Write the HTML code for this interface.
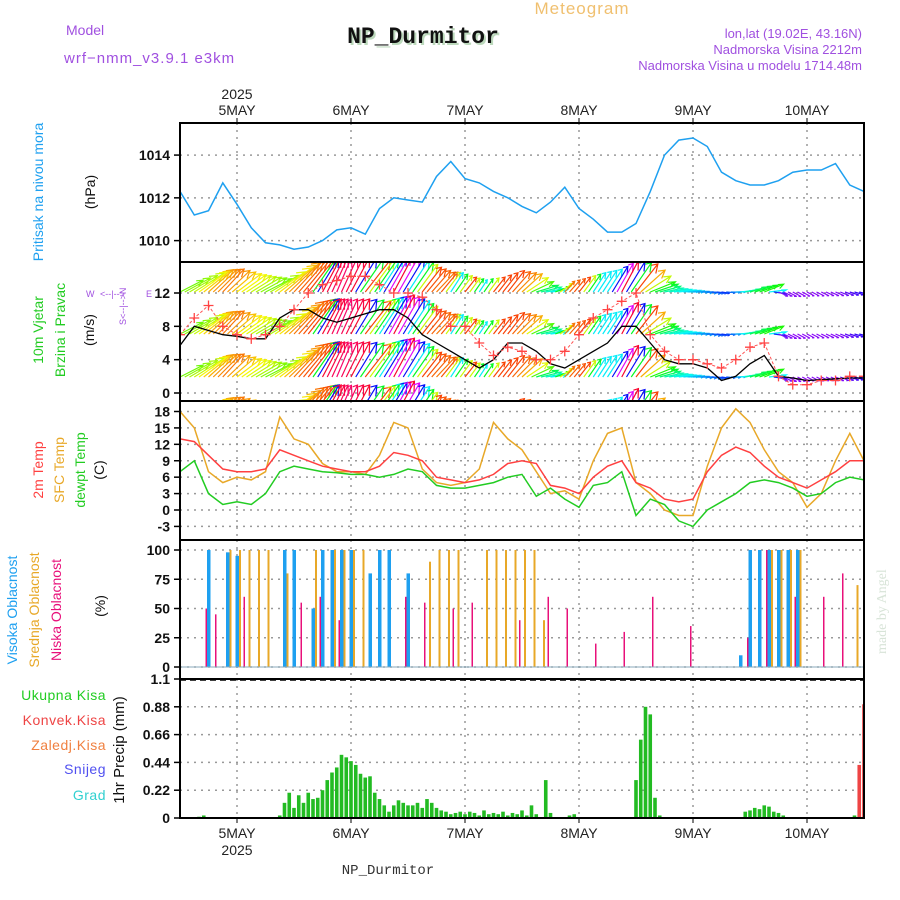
<!DOCTYPE html>
<html><head><meta charset="utf-8"><title>Meteogram NP_Durmitor</title>
<style>
html,body{margin:0;padding:0;background:#fff;}
svg{display:block;font-family:"Liberation Sans",sans-serif;}
</style></head>
<body>
<svg id="chart" width="900" height="900" viewBox="0 0 900 900" xmlns="http://www.w3.org/2000/svg">
<rect width="900" height="900" fill="#fff"/>
<text x="582" y="14" font-size="17" fill="#f0c070" text-anchor="middle" letter-spacing="1">Meteogram</text>
<text x="66" y="35" font-size="14" fill="#a050e0">Model</text>
<text x="64" y="63" font-size="15" fill="#a050e0" letter-spacing="1">wrf−nmm_v3.9.1 e3km</text>
<text x="425" y="45" font-size="23" font-weight="bold" fill="#bcd9bc" text-anchor="middle" font-family="Liberation Mono,monospace">NP_Durmitor</text>
<text x="423" y="43" font-size="23" font-weight="bold" fill="#111" text-anchor="middle" font-family="Liberation Mono,monospace">NP_Durmitor</text>
<text x="862" y="38" font-size="13" fill="#a050e0" text-anchor="end">lon,lat (19.02E, 43.16N)</text>
<text x="862" y="54" font-size="13" fill="#a050e0" text-anchor="end">Nadmorska Visina 2212m</text>
<text x="862" y="70" font-size="13" fill="#a050e0" text-anchor="end">Nadmorska Visina u modelu 1714.48m</text>
<g id="g"></g>
<text transform="translate(886,654) rotate(-90)" font-size="14" fill="#d8e4d8" font-family="Liberation Serif,serif">made by Angel</text>
<text x="388" y="874" font-size="14" fill="#333" text-anchor="middle" font-family="Liberation Mono,monospace">NP_Durmitor</text>
</svg>
<script>
// ---- data (3-hourly, starting 4 May 12 UTC) ----
const dayLabels = ["5MAY","6MAY","7MAY","8MAY","9MAY","10MAY"];
const pressure = [1012.3,1011.2,1011.4,1012.7,1011.7,1010.6,1009.9,1009.8,1009.6,1009.7,1010.0,1010.5,1010.6,1010.3,1011.5,1012.0,1011.9,1011.8,1013.0,1013.7,1012.9,1012.7,1012.3,1012.0,1011.6,1011.3,1011.8,1012.5,1011.5,1011.0,1010.4,1010.4,1010.8,1012.3,1014.0,1014.7,1014.8,1014.4,1013.2,1012.8,1012.6,1012.6,1012.8,1013.2,1013.3,1013.3,1013.6,1012.6,1012.3];
const windSpeed = [5.7,8,7.5,7,6.8,6.5,6.5,9,10,10,9,8.5,9,9.5,10,10,9,7,6,5,4,3,4,6,6,5,3.5,3,4,5,6,8,8,6,4,3.5,3.5,3,1.5,2,3.5,4.5,2,1.8,1.5,1.6,1.7,1.8,1.8];
const windGust = [7,9,10.5,8,7,6.5,7,8,10,12,13,13.5,14,14,13,12,12,11.5,10,8,8,6,4.5,5.5,5,4,4,5,7,9,10,11,12,7,5,4,4,3.5,3,4,5.5,6,2,1,1,1.5,1.5,2,2];
const windDir = [235,230,220,215,225,230,235,225,215,210,200,195,200,210,205,200,205,210,215,205,210,205,210,210,220,245,255,215,210,205,205,200,210,240,250,255,260,265,270,260,245,240,285,290,290,288,285,280,275];
const temp2m = [13,12.5,10,7.5,7,7,7.5,11,10,9,8,7.5,7,7,8,10.5,10,9,6,5.5,5,5.5,6.5,8.5,9,8.5,4.5,4,3,6,8,9,5,4,2,1.5,2,7,10,11.5,10.5,8,6,5,4,5.5,7,9,9];
const tempSfc = [18,15,7,5,6,5.5,7,17,13,12,8.5,7,7,6.5,10,16,15,7.5,5,4.5,5,7.5,16,13,11,7,3,3.5,2,9,14,15,5,3,0,-1,-1,8,15,18.5,16,11,7,5,0.5,3,9,14,9];
const tempDew = [7,9,3,1,1.5,1,3,7,8,7.5,7,6.8,6.5,6.5,6,6.5,7.5,7,4.5,4,4,4.5,5,6,6.5,2.5,4,2,0.5,4.5,5,7,-1,2,1,-2,-3,0,1.5,3,5,5.5,5,4,2.5,3,5,6,5.5];
// cloud cover (2-hourly)
const cloudHigh = [0,0,0,100,0,98,95,0,0,0,0,100,100,0,50,100,100,100,100,0,80,100,100,0,80,0,0,0,0,0,0,0,0,0,0,0,0,0,0,0,0,0,0,0,0,0,0,0,0,0,0,0,0,0,0,0,0,0,0,10,100,100,100,100,100,100,0,0,0,0,0,0,0];
const cloudMid = [0,0,0,0,0,100,100,100,100,100,0,80,0,0,100,0,100,100,100,100,0,0,0,0,0,0,90,100,100,100,0,0,100,100,100,100,100,100,40,0,0,0,0,0,0,0,0,0,0,0,0,0,0,0,0,0,0,0,0,0,0,0,100,100,100,100,0,0,0,0,0,70,0];
const cloudLow = [10,0,0,50,45,0,0,60,0,0,0,0,0,55,0,60,0,40,0,0,0,0,0,0,60,0,55,0,0,50,0,55,0,0,0,0,40,0,0,60,0,50,0,0,20,0,0,30,0,0,60,0,0,0,35,0,0,0,0,0,25,0,100,0,0,60,0,0,60,0,80,0,0];
// hourly precipitation
const precipTotal = [0,0,0,0,0.01,0.02,0,0,0,0,0,0, 0,0,0,0,0,0,0,0,0,0.02,0.12,0.2, 0.08,0.18,0.12,0.2,0.15,0.16,0.22,0.3,0.36,0.4,0.5,0.48, 0.45,0.42,0.35,0.32,0.33,0.2,0.15,0.1,0.05,0.1,0.14,0.12, 0.1,0.1,0.12,0.08,0.15,0.12,0.08,0.06,0.05,0.03,0.04,0.05, 0.03,0.05,0.04,0.02,0.06,0.03,0.04,0.03,0.05,0.02,0.04,0.03, 0.06,0.02,0.1,0.03,0,0.3,0.04,0,0,0,0.02,0.03, 0,0,0,0,0,0,0,0,0,0,0,0, 0.3,0.62,0.88,0.82,0.16,0.02,0,0,0,0,0,0, 0,0,0,0,0,0,0,0,0,0,0,0.05, 0.06,0.08,0.07,0.1,0.09,0.05,0.04,0.02,0,0,0,0, 0,0,0,0,0,0,0,0,0,0,0.02,0.06, 0];
const precipConv = [0,0,0,0,0,0,0,0,0,0,0,0, 0,0,0,0,0,0,0,0,0,0,0,0, 0,0,0,0,0,0,0,0,0,0,0,0, 0,0,0,0,0,0,0,0,0,0,0,0, 0,0,0,0,0,0,0,0,0,0,0,0, 0,0,0,0,0,0,0,0,0,0,0,0, 0,0,0,0,0,0,0,0,0,0,0,0, 0,0,0,0,0,0,0,0,0,0,0,0, 0,0,0,0,0,0,0,0,0,0,0,0, 0,0,0,0,0,0,0,0,0,0,0,0, 0,0,0,0,0,0,0,0,0,0,0,0, 0,0,0,0,0,0,0,0,0,0,0,0.42, 0.9];
const pTicks = [1010,1012,1014];
const wTicks = [0,4,8,12];
const tTicks = [-3,0,3,6,9,12,15,18];
const cTicks = [0,25,50,75,100];
const rTicks = [0,0.22,0.44,0.66,0.88,1.1];
const rTickLabels = ["0","0.22","0.44","0.66","0.88","1.1"];

// ---- layout ----
const X0=180, X1=864, HOURS=144;
const xH = h => X0 + (X1-X0)*h/HOURS;
const panels = [[123,262],[262,401],[401,540],[540,679],[679,818]];
const lin = (d0,d1,r0,r1) => v => r0 + (v-d0)*(r1-r0)/(d1-d0);
const yP = lin(1009,1015.5,262,123);
const yW = lin(0,12,393,293);
const yT = lin(0,18,510,411.5);
const yC = lin(0,100,667,550);
const yR = lin(0,1.1,818,679);

const NS="http://www.w3.org/2000/svg";
const g=document.getElementById('g');
function el(tag,attrs,parent){const e=document.createElementNS(NS,tag);for(const k in attrs)e.setAttribute(k,attrs[k]);(parent||g).appendChild(e);return e;}
function txt(s,attrs,parent){const e=el('text',attrs,parent);e.textContent=s;return e;}

const defs=el('defs',{});
panels.forEach((p,i)=>{const c=el('clipPath',{id:'clip'+i},defs);el('rect',{x:X0,y:p[0],width:X1-X0,height:p[1]-p[0]},c);});

panels.forEach((p,i)=>{
  for(let d=0;d<6;d++){
    const x=xH(12+24*d);
    const l=el('line',{x1:x,x2:x,y1:p[0],y2:p[1],stroke:'#999','stroke-dasharray':'2,5','stroke-width':1.5});
    
    
  }
});
function hGrid(ticks,yf,p,labels,name){
  ticks.forEach((t,i)=>{
    const y=yf(t);
    const l=el('line',{x1:X0,x2:X1,y1:y,y2:y,stroke:'#999','stroke-dasharray':'2,5','stroke-width':1.5});
    
    
    el('line',{x1:X0-6,x2:X0,y1:y,y2:y,stroke:'#000','stroke-width':1.5});
    const tx=txt(labels?labels[i]:String(t),{x:X0-10,y:y+5,'font-size':14,'font-weight':'bold','text-anchor':'end',fill:'#111'});
    
    
  });
}
hGrid(pTicks,yP,panels[0],null,'pressure');
hGrid(wTicks,yW,panels[1],null,'wind');
hGrid(tTicks,yT,panels[2],null,'temp');
hGrid(cTicks,yC,panels[3],null,'cloud');
hGrid(rTicks,yR,panels[4],rTickLabels,'precip');

function line(arr,yf,color,clip,name,w){
  const pts=arr.map((v,i)=>xH(i*3).toFixed(1)+','+yf(v).toFixed(1)).join(' ');
  const l=el('polyline',{points:pts,fill:'none',stroke:color,'stroke-width':w||1.5,'clip-path':'url(#'+clip+')'});
  
  
  return l;
}
line(pressure,yP,'#1ea0f0','clip0','pressure-line');

function hueForDir(d){
  const tbl=[[190,320],[200,350],[210,15],[218,35],[228,65],[240,115],[252,170],[265,215],[285,270],[295,275]];
  if(d<=tbl[0][0])return tbl[0][1];
  for(let i=1;i<tbl.length;i++){if(d<=tbl[i][0]){const a=tbl[i-1],b=tbl[i];return a[1]+(b[1]-a[1])*(d-a[0])/(b[0]-a[0]);}}
  return tbl[tbl.length-1][1];
}
const wg=el('g',{'clip-path':'url(#clip1)'});


const rowBase=[420,377,334,292];
for(let h=0;h<=HOURS;h++){
  const i=Math.min(Math.floor(h/3),windSpeed.length-2), f=(h-i*3)/3;
  const sp=windSpeed[i]+(windSpeed[i+1]-windSpeed[i])*f;
  const dir=windDir[i]+(windDir[i+1]-windDir[i])*f;
  const rad=(dir+180+8)*Math.PI/180;
  const len=4.2*sp+2;
  const dx=Math.sin(rad)*len, dy=-Math.cos(rad)*len;
  const col='hsl('+hueForDir(dir).toFixed(0)+',95%,50%)';
  rowBase.forEach(b=>{
    const x=xH(h), y=b;
    el('path',{d:`M${x},${y} l${dx.toFixed(1)},${dy.toFixed(1)} m${(-dx*0.25-dy*0.12).toFixed(1)},${(-dy*0.25+dx*0.12).toFixed(1)} l${(dx*0.25+dy*0.12).toFixed(1)},${(dy*0.25-dx*0.12).toFixed(1)} l${(-dx*0.3).toFixed(1)},${(-dy*0.05).toFixed(1)}`,stroke:col,'stroke-width':1.2,fill:'none'},wg);
  });
}
line(windSpeed,yW,'#000','clip1','wind-speed-line',1.3);
line(windGust,yW,'#ff5555','clip1','wind-gust-line',1).setAttribute('stroke-dasharray','3,2');
windGust.forEach((v,i)=>{
  const x=xH(i*3),y=yW(v);
  const m=el('path',{d:`M${x-5},${y} h10 M${x},${y-5} v10`,stroke:'#ff4444','stroke-width':1.3,'clip-path':'url(#clip1)'});
  
  
});

line(tempSfc,yT,'#e8a828','clip2','sfc-temp-line');
line(temp2m,yT,'#ff4040','clip2','temp-2m-line');
line(tempDew,yT,'#22cc22','clip2','dewpoint-line');

function cbars(arr,color,off,name,w){
  arr.forEach((v,i)=>{
    if(v<=0)return;
    const x=xH(i*2)+off, y=yC(v);
    const r=el('rect',{x:x,y:y,width:w,height:yC(0)-y,fill:color,'clip-path':'url(#clip3)'});
    
    
  });
}
cbars(cloudHigh,'#1ea0f0',-1.5,'high-cloud-bar',3.5);
cbars(cloudMid,'#e8a828',2,'mid-cloud-bar',2);
cbars(cloudLow,'#e8107a',-3,'low-cloud-bar',1.5);
el('line',{x1:X0,x2:X1,y1:yC(0),y2:yC(0),stroke:'#8ab','stroke-width':1});

el('line',{x1:X0,x2:X1,y1:680,y2:680,stroke:'#000','stroke-width':1.5,'stroke-dasharray':'6,4'});
precipTotal.forEach((v,h)=>{
  if(v<=0)return;
  const x=xH(h)-1.8,y=yR(v);
  const r=el('rect',{x:x,y:y,width:3.6,height:yR(0)-y,fill:'#22bb22','clip-path':'url(#clip4)'});
  
  
});
precipConv.forEach((v,h)=>{
  if(v<=0)return;
  const x=xH(h)-1.8,y=yR(v);
  const r=el('rect',{x:x,y:y,width:3.6,height:yR(0)-y,fill:'#ee4444','clip-path':'url(#clip4)'});
  
  
});

panels.forEach((p,i)=>{
  const r=el('rect',{x:X0,y:p[0],width:X1-X0,height:p[1]-p[0],fill:'none',stroke:'#000','stroke-width':2});
  
  
});
dayLabels.forEach((d,i)=>{
  const x=xH(12+24*i);
  el('line',{x1:x,x2:x,y1:118,y2:123,stroke:'#000'});
  el('line',{x1:x,x2:x,y1:818,y2:823,stroke:'#000'});
  const t1=txt(d,{x:x,y:115,'font-size':14,'text-anchor':'middle',fill:'#222'});
  
  
  const t2=txt(d,{x:x,y:838,'font-size':14,'text-anchor':'middle',fill:'#222'});
  
  
});
txt('2025',{x:xH(12),y:99,'font-size':14,'text-anchor':'middle',fill:'#222'});
txt('2025',{x:xH(12),y:855,'font-size':14,'text-anchor':'middle',fill:'#222'});

function vlab(s,x,y,color,name,size){
  const t=txt(s,{transform:`translate(${x},${y}) rotate(-90)`,'font-size':size||14,'text-anchor':'middle',fill:color});
  
  
}
vlab('Pritisak na nivou mora',43,192,'#1ea0f0','pressure-axis-title');
vlab('(hPa)',95,192,'#111','pressure-unit');
vlab('10m Vjetar',43,330,'#22cc22','wind-axis-title');
vlab('Brzina i Pravac',65,330,'#22cc22','wind-axis-subtitle');
vlab('(m/s)',94,330,'#111','wind-unit');
vlab('2m Temp',43,470,'#ff4040','temp2m-axis-title');
vlab('SFC Temp',64,470,'#e8a828','sfc-temp-axis-title');
vlab('dewpt Temp',85,470,'#22cc22','dewpoint-axis-title');
vlab('(C)',104,470,'#111','temp-unit');
vlab('Visoka Oblacnost',17,610,'#1ea0f0','high-cloud-axis-title');
vlab('Srednja Oblacnost',39,610,'#e8a828','mid-cloud-axis-title');
vlab('Niska Oblacnost',61,610,'#e8107a','low-cloud-axis-title');
vlab('(%)',105,606,'#111','cloud-unit');
vlab('1hr Precip (mm)',124,750,'#111','precip-axis-title',15);
[['Ukupna Kisa','#22cc22',700],['Konvek.Kisa','#ee4444',725],['Zaledj.Kisa','#f08040',750],['Snijeg','#5050f0',774],['Grad','#30d0d0',800]].forEach(a=>{
  const t=txt(a[0],{x:106,y:a[2],'font-size':14,'text-anchor':'end',fill:a[1],'letter-spacing':'0.5'});
  
  
});
const cg=el('g',{fill:'#a050e0','font-size':9});


txt('W',{x:86,y:297},cg);txt('E',{x:146,y:297},cg);
txt('<--|-->',{x:100,y:297,'font-size':9},cg);
txt('S<--|-->N',{transform:'translate(126,325) rotate(-90)','font-size':9},cg);
</script>
</body></html>
